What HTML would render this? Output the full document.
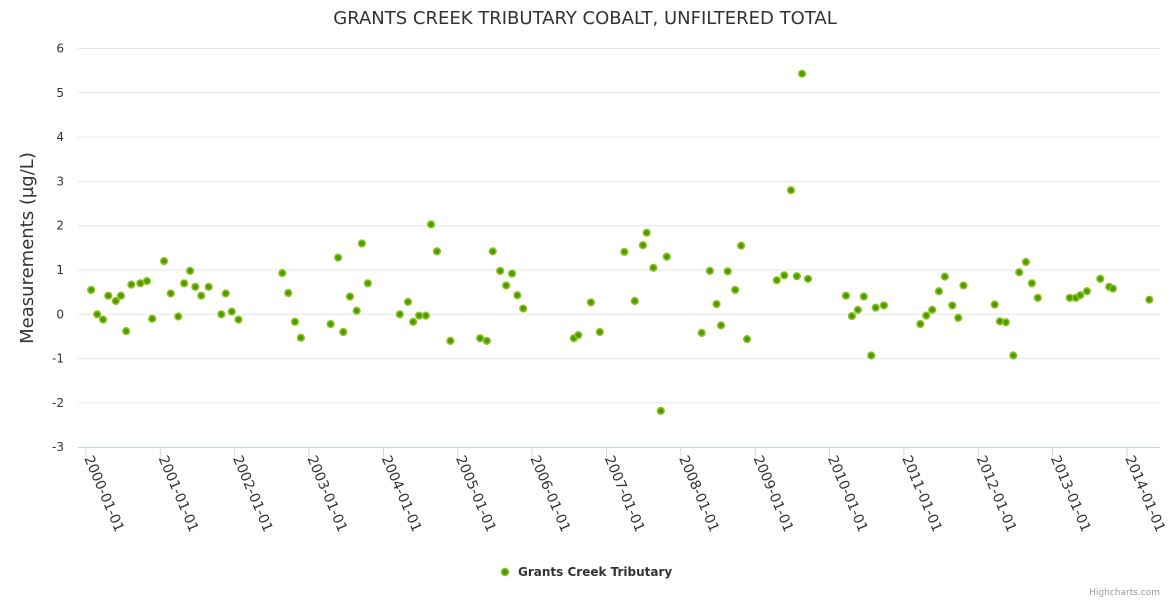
<!DOCTYPE html>
<html><head><meta charset="utf-8"><style>
body{margin:0;background:#fff;font-family:"DejaVu Sans","Liberation Sans",sans-serif}
svg text{font-family:"DejaVu Sans","Liberation Sans",sans-serif}
</style></head><body>
<svg id="chart" width="1170" height="600" xmlns="http://www.w3.org/2000/svg">
<text x="585" y="24" text-anchor="middle" font-size="18" fill="#333">GRANTS CREEK TRIBUTARY COBALT, UNFILTERED TOTAL</text>
<text transform="translate(33,248) rotate(-90)" text-anchor="middle" font-size="18" fill="#333">Measurements (µg/L)</text>
<g id="grid"></g><g id="xaxis"></g><g id="pts"></g>
<g>
<circle cx="505" cy="572" r="3.5" fill="#4c9a00" stroke="#8cc21f" stroke-width="1.5"/>
<text x="518" y="576" font-size="12" font-weight="bold" fill="#333">Grants Creek Tributary</text></g>
<text x="1160" y="595" text-anchor="end" font-size="9" fill="#999">Highcharts.com</text>
</svg>
<script>
const yTicks=[-3,-2,-1,0,1,2,3,4,5,6];
const xYears=[2000,2001,2002,2003,2004,2005,2006,2007,2008,2009,2010,2011,2012,2013,2014];
const xDates=[0.07,0.15,0.23,0.30,0.40,0.47,0.54,0.61,0.73,0.82,0.89,1.05,1.14,1.24,1.32,1.40,1.47,1.55,1.65,1.82,1.88,1.96,2.05,
2.64,2.72,2.81,2.89,3.29,3.39,3.46,3.55,3.64,3.71,3.79,4.22,4.33,4.40,4.48,4.57,4.64,4.72,4.90,
5.30,5.39,5.47,5.57,5.65,5.73,5.80,5.88,
6.56,6.62,6.79,6.91,7.24,7.38,7.49,7.54,7.63,7.73,7.81,
8.28,8.39,8.48,8.54,8.63,8.73,8.81,8.89,9.29,9.39,9.48,9.56,9.63,9.71,
10.22,10.30,10.38,10.46,10.56,10.62,10.73,
11.22,11.30,11.38,11.47,11.55,11.65,11.73,11.80,
12.22,12.29,12.37,12.47,12.55,12.64,12.72,12.80,
13.23,13.31,13.37,13.46,13.64,13.76,13.81,14.30];
const values=[0.55,0,-0.12,0.42,0.3,0.42,-0.38,0.67,0.7,0.75,-0.1,1.2,0.47,-0.05,0.7,0.98,0.62,0.42,0.62,0,0.47,0.06,-0.12,
0.93,0.48,-0.17,-0.53,-0.22,1.28,-0.4,0.4,0.08,1.6,0.7,0,0.28,-0.17,-0.03,-0.03,2.03,1.42,-0.6,
-0.54,-0.6,1.42,0.98,0.65,0.92,0.43,0.13,
-0.54,-0.47,0.27,-0.4,1.41,0.3,1.56,1.84,1.05,-2.18,1.3,
-0.42,0.98,0.23,-0.25,0.97,0.55,1.55,-0.56,0.77,0.88,2.8,0.86,5.43,0.8,
0.42,-0.04,0.1,0.4,-0.93,0.15,0.2,
-0.22,-0.03,0.1,0.52,0.85,0.2,-0.08,0.65,
0.22,-0.16,-0.18,-0.93,0.95,1.18,0.7,0.37,
0.37,0.37,0.43,0.52,0.8,0.62,0.58,0.33];
const NS="http://www.w3.org/2000/svg";
const y=v=>314.3-v*44.3;
const x=t=>86+t*74.36;
function mk(tag,attrs,parent){const e=document.createElementNS(NS,tag);for(const k in attrs)e.setAttribute(k,attrs[k]);parent.appendChild(e);return e;}
const grid=document.getElementById('grid');
yTicks.forEach(v=>{
 if(v!==-3){const l=mk('line',{x1:78,x2:1160,y1:y(v),y2:y(v),stroke:'#e6e6e6'},grid);
 
 }
 const t=mk('text',{x:64,y:y(v)+4,'text-anchor':'end','font-size':12,fill:'#333'},grid);
 
 
 t.textContent=v;
});
const xa=document.getElementById('xaxis');
mk('line',{x1:78,x2:1160,y1:447.5,y2:447.5,stroke:'#ccd6eb'},xa);
xYears.forEach(yr=>{
 const px=x(yr-2000);
 mk('line',{x1:px,x2:px,y1:447,y2:457,stroke:'#ccd6eb'},xa);
 const t=mk('text',{transform:`translate(${px-2},${458}) rotate(67)`,'font-size':14,fill:'#333'},xa);
 
 
 t.textContent=yr+'-01-01';
});
const pts=document.getElementById('pts');
xDates.forEach((d,i)=>{
 const c=mk('circle',{cx:x(d),cy:y(values[i]),r:3.3,fill:'#4c9a00',stroke:'#8cc21f','stroke-width':1.6},pts);
 
 
});
</script>
</body></html>
